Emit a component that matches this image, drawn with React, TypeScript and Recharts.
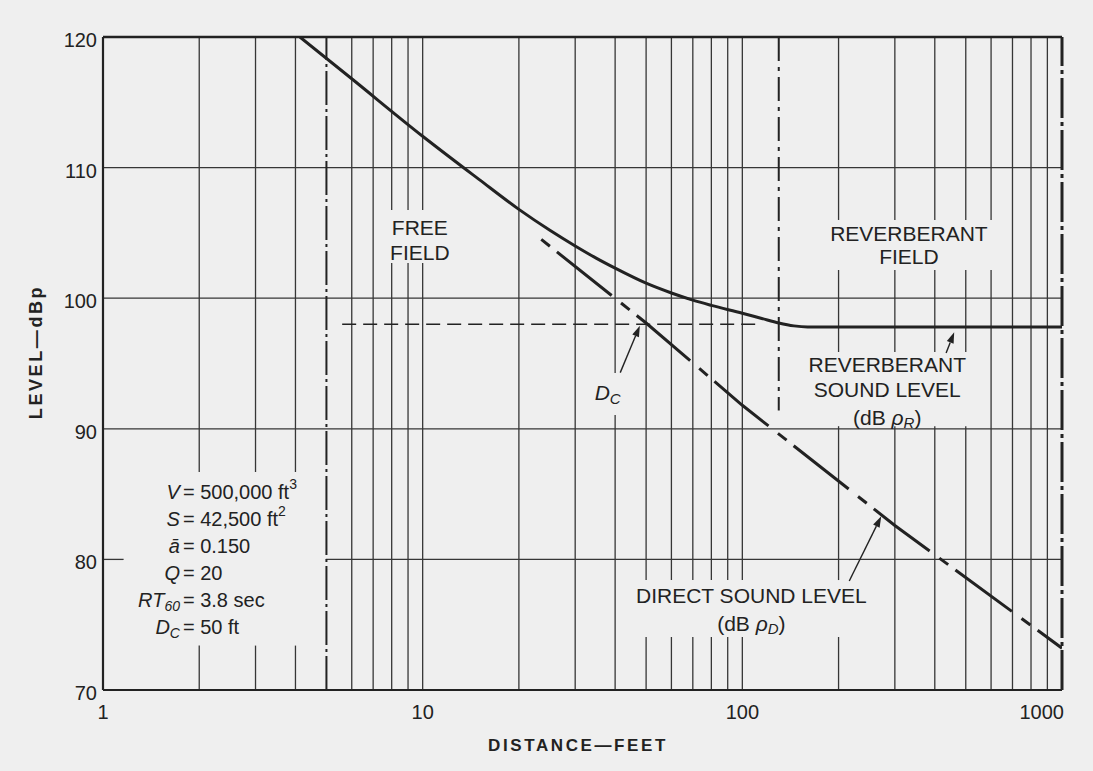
import React from 'react';
import { ComposedChart, Line, XAxis, YAxis, ReferenceLine, ReferenceDot } from 'recharts';

// ---------- data ----------
const xTicks = [1, 10, 100, 1000];
const yTicks = [70, 80, 90, 100, 110, 120];
const gridDistances = [2, 3, 4, 6, 7, 8, 9, 10, 20, 30, 40, 50, 60, 70, 80, 90, 100, 200, 300, 400, 500, 600, 700, 800, 900];
const gridLevels = [80, 90, 100, 110];

// total level (direct + reverberant), solid curve
const totalDist = [4.13, 6, 10, 15, 20, 25, 30, 35, 40, 50, 60, 70, 80, 100, 115, 130, 145, 160, 1000];
const totalLevel = [120, 116.8, 112.4, 109.1, 106.8, 105.2, 104.0, 103.05, 102.3, 101.15, 100.4, 99.85, 99.45, 98.85, 98.45, 98.1, 97.88, 97.8, 97.8];

// direct sound level continuation (dash-dot)
const directDist = [23.5, 50, 100, 300, 1000];
const directLevel = [104.5, 98.1, 91.8, 82.6, 73.2];

// reverberant level extension (dashed)
const reverbDist = [5.6, 111];
const reverbLevel = [98, 98];

// boundary markers
const freeFieldLimit = 5;
const reverbFieldStart = 130;
const reverbFieldStartTop = 120;
const reverbFieldStartBottom = 91.4;

// gaps cut in the grid around the captions (data units)
const gridGaps = [
  { x1: 1.16, x2: 4.98, y1: 73.4, y2: 86.7 },
  { x1: 7.5, x2: 11, y1: 102.7, y2: 106.75 },
  { x1: 35, x2: 45, y1: 91.06, y2: 94.27 },
  { x1: 45, x2: 250, y1: 74.06, y2: 78.42 },
  { x1: 160, x2: 650, y1: 102.16, y2: 105.99 },
  { x1: 160, x2: 560, y1: 90.2, y2: 95.88 },
];

// annotation arrows [from, to]
const arrows = [
  { fx: 41.5, fy: 94.3, tx: 47.8, ty: 97.9 },
  { fx: 216, fy: 78.35, tx: 272, ty: 83.3 },
  { fx: 434, fy: 95.8, tx: 460, ty: 97.4 },
];

// ---------- styles ----------
const W = 1093;
const H = 771;
const BG = '#efefef';
const INK = '#222222';
const GRID = '#363636';
const FONT = '"Liberation Sans", Arial, Helvetica, sans-serif';

const totalData = totalDist.map((x, i) => ({ x, y: totalLevel[i] }));
const directData = directDist.map((x, i) => ({ x, y: directLevel[i] }));
const reverbData = reverbDist.map((x, i) => ({ x, y: reverbLevel[i] }));

function splitRange(lo: number, hi: number, cuts: number[][]) {
  const s = [...cuts].sort((a, b) => a[0] - b[0]);
  const out: number[][] = [];
  let cur = lo;
  for (const [a, b] of s) {
    if (a > cur) out.push([cur, a]);
    cur = Math.max(cur, b);
  }
  if (cur < hi) out.push([cur, hi]);
  return out;
}

const vSegments: { x: number; a: number; b: number }[] = [];
gridDistances.forEach((x) => {
  const cuts = gridGaps.filter((g) => g.x1 < x && x < g.x2).map((g) => [g.y1, g.y2]);
  splitRange(70, 120, cuts).forEach(([a, b]) => vSegments.push({ x, a, b }));
});
const hSegments: { y: number; a: number; b: number }[] = [];
gridLevels.forEach((y) => {
  const cuts = gridGaps.filter((g) => g.y1 < y && y < g.y2).map((g) => [g.x1, g.x2]);
  splitRange(1, 1000, cuts).forEach(([a, b]) => hSegments.push({ y, a, b }));
});

const txt = { fill: INK, fontFamily: FONT, fontSize: 21 } as const;

const XTick = (p: any) => {
  const v = p.payload.value;
  const last = v === 1000;
  return (
    <text x={last ? p.x + 2 : p.x} y={p.y + 29} textAnchor={last ? 'end' : 'middle'} fill={INK} fontFamily={FONT} fontSize={20}>
      {v}
    </text>
  );
};
const YTick = (p: any) => (
  <text x={p.x - 6} y={p.y + 3} textAnchor="end" dominantBaseline="central" fill={INK} fontFamily={FONT} fontSize={20}>
    {p.payload.value}
  </text>
);

const XTitle = (p: any) => {
  const vb = p.viewBox || { x: 103, y: 690, width: 959 };
  return (
    <text x={vb.x + 475} y={vb.y + 55} textAnchor="middle" dominantBaseline="central" fill={INK} fontFamily={FONT} fontSize={17} fontWeight="bold" letterSpacing={2.6}>
      DISTANCE—FEET
    </text>
  );
};
const YTitle = (p: any) => {
  const vb = p.viewBox || { x: 0, y: 37 };
  const cx = vb.x + 36;
  const cy = vb.y + 315;
  return (
    <text x={cx} y={cy} transform={`rotate(-90 ${cx} ${cy})`} textAnchor="middle" dominantBaseline="central" fill={INK} fontFamily={FONT} fontSize={18} fontWeight="bold" letterSpacing={2.6}>
      LEVEL—dBp
    </text>
  );
};

const Arrow = (p: any) => {
  const { x1, y1, x2, y2 } = p;
  const ang = Math.atan2(y2 - y1, x2 - x1);
  const L = 11;
  const hw = 3.6;
  const bx = x2 - L * Math.cos(ang);
  const by = y2 - L * Math.sin(ang);
  const nx = -Math.sin(ang) * hw;
  const ny = Math.cos(ang) * hw;
  return (
    <g>
      <line x1={x1} y1={y1} x2={bx} y2={by} stroke={INK} strokeWidth={1.4} />
      <polygon points={`${x2},${y2} ${bx + nx},${by + ny} ${bx - nx},${by - ny}`} fill={INK} />
    </g>
  );
};

const FreeField = ({ cx, cy }: any) => (
  <g>
    <text x={cx} y={cy} textAnchor="middle" dominantBaseline="central" {...txt}>FREE</text>
    <text x={cx} y={cy + 25} textAnchor="middle" dominantBaseline="central" {...txt}>FIELD</text>
  </g>
);
const ReverbField = ({ cx, cy }: any) => (
  <g>
    <text x={cx} y={cy} textAnchor="middle" dominantBaseline="central" {...txt}>REVERBERANT</text>
    <text x={cx} y={cy + 23} textAnchor="middle" dominantBaseline="central" {...txt}>FIELD</text>
  </g>
);
const ReverbLevel = ({ cx, cy }: any) => (
  <g>
    <text x={cx} y={cy} textAnchor="middle" dominantBaseline="central" {...txt}>REVERBERANT</text>
    <text x={cx} y={cy + 25} textAnchor="middle" dominantBaseline="central" {...txt}>SOUND LEVEL</text>
    <text x={cx} y={cy + 52} textAnchor="middle" dominantBaseline="central" {...txt}>
      <tspan>(dB </tspan>
      <tspan fontStyle="italic">ρ</tspan>
      <tspan fontStyle="italic" fontSize={15} dy={5}>R</tspan>
      <tspan dy={-5}>)</tspan>
    </text>
  </g>
);
const DirectLevel = ({ cx, cy }: any) => (
  <g>
    <text x={cx} y={cy} textAnchor="middle" dominantBaseline="central" {...txt}>DIRECT SOUND LEVEL</text>
    <text x={cx} y={cy + 27} textAnchor="middle" dominantBaseline="central" {...txt}>
      <tspan>(dB </tspan>
      <tspan fontStyle="italic">ρ</tspan>
      <tspan fontStyle="italic" fontSize={15} dy={5}>D</tspan>
      <tspan dy={-5}>)</tspan>
    </text>
  </g>
);
const CriticalLabel = ({ cx, cy }: any) => (
  <text x={cx} y={cy} textAnchor="middle" dominantBaseline="central" {...txt}>
    <tspan fontStyle="italic">D</tspan>
    <tspan fontStyle="italic" fontSize={15} dy={6}>C</tspan>
  </text>
);

const paramRows: { v: React.ReactNode; r: React.ReactNode }[] = [
  { v: <tspan fontStyle="italic">V</tspan>, r: <><tspan>= 500,000 ft</tspan><tspan fontSize={14} dy={-8}>3</tspan></> },
  { v: <tspan fontStyle="italic">S</tspan>, r: <><tspan>= 42,500 ft</tspan><tspan fontSize={14} dy={-8}>2</tspan></> },
  { v: <tspan fontStyle="italic">ā</tspan>, r: <tspan>= 0.150</tspan> },
  { v: <tspan fontStyle="italic">Q</tspan>, r: <tspan>= 20</tspan> },
  { v: <><tspan fontStyle="italic">RT</tspan><tspan fontStyle="italic" fontSize={14} dy={6}>60</tspan></>, r: <tspan>= 3.8 sec</tspan> },
  { v: <><tspan fontStyle="italic">D</tspan><tspan fontStyle="italic" fontSize={14} dy={6}>C</tspan></>, r: <tspan>= 50 ft</tspan> },
];
const Params = ({ cx, cy }: any) => (
  <g>
    {paramRows.map((row, i) => (
      <g key={i}>
        <text x={cx - 2} y={cy + i * 27} textAnchor="end" dominantBaseline="central" {...txt} fontSize={20}>{row.v}</text>
        <text x={cx + 1} y={cy + i * 27} textAnchor="start" dominantBaseline="central" {...txt} fontSize={20}>{row.r}</text>
      </g>
    ))}
  </g>
);

export default function App() {
  return (
    <div style={{ position: 'fixed', left: 0, top: 0, width: W, height: H, background: BG }}>
      <ComposedChart width={W} height={H} margin={{ top: 37, right: 31, bottom: 0, left: 0 }}>
        <XAxis
          dataKey="x"
          type="number"
          scale="log"
          domain={[1, 1000]}
          ticks={xTicks}
          allowDataOverflow
          height={81}
          tickSize={0}
          tickMargin={0}
          tickLine={false}
          axisLine={{ stroke: INK, strokeWidth: 2.2 }}
          tick={<XTick />}
          label={<XTitle />}
        />
        <YAxis
          type="number"
          domain={[70, 120]}
          ticks={yTicks}
          allowDataOverflow
          width={103}
          tickSize={0}
          tickMargin={0}
          tickLine={false}
          axisLine={{ stroke: INK, strokeWidth: 2.2 }}
          tick={<YTick />}
          label={<YTitle />}
        />

        {vSegments.map((s, i) => (
          <ReferenceLine key={'v' + i} ifOverflow="visible" segment={[{ x: s.x, y: s.a }, { x: s.x, y: s.b }]} stroke={GRID} strokeWidth={1.3} />
        ))}
        {hSegments.map((s, i) => (
          <ReferenceLine key={'h' + i} ifOverflow="visible" segment={[{ x: s.a, y: s.y }, { x: s.b, y: s.y }]} stroke={GRID} strokeWidth={1.3} />
        ))}

        <ReferenceLine ifOverflow="visible" y={120} stroke={INK} strokeWidth={2.6} />
        <ReferenceLine ifOverflow="visible" x={freeFieldLimit} stroke={INK} strokeWidth={2} strokeDasharray="34 4 3 4" />
        <ReferenceLine
          ifOverflow="visible"
          segment={[{ x: reverbFieldStart, y: reverbFieldStartTop }, { x: reverbFieldStart, y: reverbFieldStartBottom }]}
          stroke={INK}
          strokeWidth={2}
          strokeDasharray="24 6 4 6"
        />
        <ReferenceLine ifOverflow="visible" x={1000} stroke={INK} strokeWidth={3} strokeDasharray="40 4 4 4" />

        {arrows.map((a, i) => (
          <ReferenceLine key={'a' + i} ifOverflow="visible" segment={[{ x: a.fx, y: a.fy }, { x: a.tx, y: a.ty }]} shape={(p: any) => <Arrow {...p} />} />
        ))}

        <Line data={reverbData} dataKey="y" type="linear" stroke={INK} strokeWidth={1.6} strokeDasharray="14 7" dot={false} isAnimationActive={false} />
        <Line data={directData} dataKey="y" type="linear" stroke={INK} strokeWidth={3} strokeDasharray="11 9 70 12" dot={false} isAnimationActive={false} />
        <Line data={totalData} dataKey="y" type="monotone" stroke={INK} strokeWidth={3} dot={false} isAnimationActive={false} />

        <ReferenceDot ifOverflow="visible" x={9.8} y={105.38} r={0} shape={(p: any) => <FreeField {...p} />} />
        <ReferenceDot ifOverflow="visible" x={332} y={104.92} r={0} shape={(p: any) => <ReverbField {...p} />} />
        <ReferenceDot ifOverflow="visible" x={284} y={94.89} r={0} shape={(p: any) => <ReverbLevel {...p} />} />
        <ReferenceDot ifOverflow="visible" x={106.7} y={77.2} r={0} shape={(p: any) => <DirectLevel {...p} />} />
        <ReferenceDot ifOverflow="visible" x={37.9} y={92.82} r={0} shape={(p: any) => <CriticalLabel {...p} />} />
        <ReferenceDot ifOverflow="visible" x={1.766} y={85.16} r={0} shape={(p: any) => <Params {...p} />} />
      </ComposedChart>
    </div>
  );
}
